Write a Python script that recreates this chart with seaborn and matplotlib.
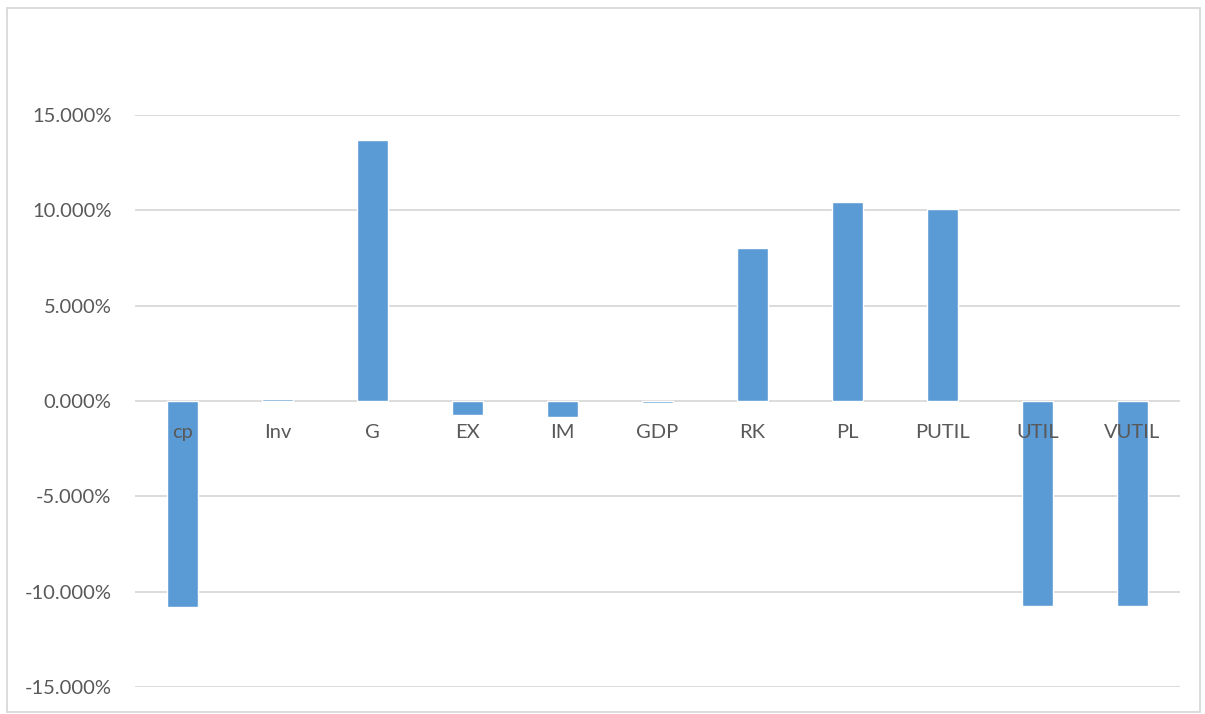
import matplotlib
matplotlib.use("Agg")
import matplotlib.pyplot as plt
import matplotlib.patches as mpatches
from matplotlib.ticker import FuncFormatter
import seaborn as sns
import pandas as pd

categories = ["cp", "Inv", "G", "EX", "IM", "GDP", "RK", "PL", "PUTIL", "UTIL", "VUTIL"]
values = [-10.80, 0.12, 13.70, -0.72, -0.82, -0.08, 8.02, 10.43, 10.05, -10.76, -10.76]
y_ticks = [-15, -10, -5, 0, 5, 10, 15]

sns.set_theme(style="white")
plt.rcParams["font.family"] = ["Lato", "DejaVu Sans"]

W, H = 1205, 714
fig = plt.figure(figsize=(W / 100, H / 100), dpi=100)
fig.patch.set_facecolor("white")

# outer chart border
fig.patches.append(mpatches.Rectangle((7 / W, 2 / H), (1200 - 7) / W, (706 - 2) / H,
                                      transform=fig.transFigure, fill=False,
                                      edgecolor="#d9d9d9", linewidth=1.3))

ax = fig.add_axes([135 / W, 27 / H, (1180 - 135) / W, (687 - 115) / H])
df = pd.DataFrame({"cat": categories, "val": values})
sns.barplot(data=df, x="cat", y="val", color="#5b9bd5", width=0.32,
            saturation=1, ax=ax, zorder=3)

ax.set_xlim(-0.5, len(categories) - 0.5)
ax.set_ylim(-15, 15)
ax.set_yticks(y_ticks)
ax.yaxis.set_major_formatter(FuncFormatter(lambda v, p: f"{v:.3f}%"))
ax.grid(axis="y", color="#d9d9d9", linewidth=1.3, zorder=0)
ax.grid(axis="x", visible=False)
for s in ax.spines.values():
    s.set_visible(False)
ax.tick_params(axis="y", length=0, pad=17, labelsize=14.5, labelcolor="#595959")
ax.set_xticks([])
ax.set_xlabel("")
ax.set_ylabel("")

for i, c in enumerate(categories):
    ax.annotate(c, xy=(i, 0), xytext=(0, -23), textcoords="offset points",
                ha="center", va="center", fontsize=14.5, color="#595959", zorder=5)

fig.savefig("out.png", dpi=100, facecolor="white")
